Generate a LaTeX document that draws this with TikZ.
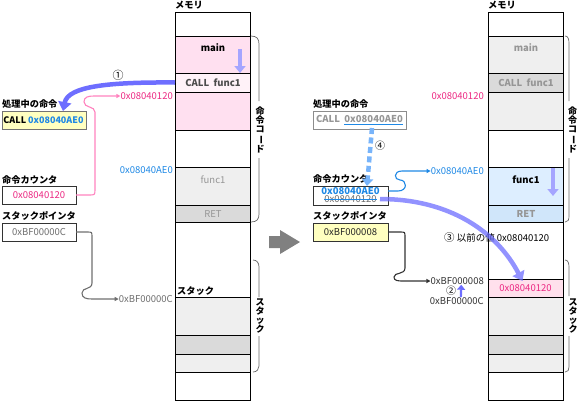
\documentclass[tikz,border=0pt]{standalone}
\usepackage{fontspec}
\setmainfont{Noto Sans CJK JP}
\usepackage{graphicx}
\usetikzlibrary{arrows.meta}
\definecolor{pinkA}{RGB}{255,224,240}
\definecolor{pinkB}{RGB}{255,242,248}
\definecolor{grayA}{RGB}{239,239,239}
\definecolor{grayB}{RGB}{218,218,218}
\definecolor{blueA}{RGB}{221,238,255}
\definecolor{blueB}{RGB}{208,230,250}
\definecolor{pinkC}{RGB}{255,224,236}
\definecolor{mag}{RGB}{236,40,130}
\definecolor{ablue}{RGB}{30,136,229}
\definecolor{tgray}{RGB}{110,110,110}
\definecolor{lgray}{RGB}{150,150,150}
\definecolor{pline}{RGB}{255,130,190}
\definecolor{bigblue}{RGB}{110,110,255}
\definecolor{lpurple}{RGB}{165,165,255}
\definecolor{dblue}{RGB}{120,180,250}
\definecolor{yel}{RGB}{255,255,192}
\begin{document}
\begin{tikzpicture}[x=1pt,y=-1pt,
  cell/.style={draw=black, line width=0.8pt, minimum width=75pt, inner sep=0pt, outer sep=0pt, anchor=north west},
  lbl/.style={font=\fontsize{9.5}{10}\selectfont, inner sep=0pt},
  blbl/.style={font=\fontsize{9.5}{10}\selectfont\bfseries, inner sep=0pt},
  jlbl/.style={font=\fontsize{9.2}{10}\selectfont\bfseries, inner sep=0pt, anchor=west},
  vlbl/.style={font=\fontsize{9}{9}\selectfont\bfseries, inner sep=0pt, align=center},
  regbox/.style={draw=black!80, line width=0.8pt, inner sep=0pt, outer sep=0pt, anchor=north west, minimum width=74pt, minimum height=18pt},
  bracket/.style={draw=black!60, line width=0.7pt},
  bigarrow/.style={draw=bigblue, line width=4.5pt, -{Triangle[length=9pt,width=13pt]}},
  downarrow/.style={draw=lpurple, line width=4.5pt, -{Triangle[length=7pt,width=11pt]}},
  thin/.style={line width=1.1pt, -{Triangle[length=4pt,width=4pt]}}
]
\useasboundingbox (0,0) rectangle (578,402);

% ---------------- left memory column
\node[jlbl] (memL) at (175,5) {メモリ};
\node[cell, fill=white, minimum height=24] (L0) at (175,12) {};
\node[cell, fill=pinkA, minimum height=37] (L1) at (175,36) {};
\node[cell, fill=pinkB, minimum height=19] (L2) at (175,73) {};
\node[cell, fill=pinkA, minimum height=38] (L3) at (175,92) {};
\node[cell, fill=white, minimum height=37] (L4) at (175,130) {};
\node[cell, fill=grayA, minimum height=38] (L5) at (175,167) {};
\node[cell, fill=grayB, minimum height=17] (L6) at (175,205) {};
\node[cell, fill=white, minimum height=75] (L7) at (175,222) {};
\node[cell, fill=grayA, minimum height=38] (L8) at (175,297) {};
\node[cell, fill=grayB, minimum height=19] (L9) at (175,335) {};
\node[cell, fill=grayA, minimum height=18] (L10) at (175,354) {};
\node[cell, fill=white, minimum height=28] (L11) at (175,372) {};
\node[blbl] at (213,48) {main};
\node[blbl, text=black!70] at (213,82.5) {CALL\ \ func1};
\node[lbl, text=lgray] at (213,180) {func1};
\node[lbl, text=lgray] at (213,214) {RET};
\node[jlbl] at (177,291) {スタック};
\draw[downarrow] (240,49) -- (240,73);

% brackets left
\draw[bracket] (251,36) .. controls (257,36) and (259,39) .. (259,44) -- (259,101);
\node[vlbl] (vcL) at (260,130) {命\\令\\コ\\\rotatebox[origin=c]{-90}{ー}\\ド};
\draw[bracket] (259,158) -- (259,214) .. controls (259,219) and (257,222) .. (251,222);
\draw[bracket] (253,260) .. controls (257,260) and (259,263) .. (259,267) -- (259,297);
\node[vlbl] (vsL) at (260,316) {ス\\タ\\ッ\\ク};
\draw[bracket] (259,336) -- (259,366) .. controls (259,369) and (257,372) .. (253,372);

% addresses left
\node[lbl, text=mag, anchor=east] (aL1) at (173,96) {0x08040120};
\node[lbl, text=ablue, anchor=east] (aL2) at (173,170.5) {0x08040AE0};
\node[lbl, text=tgray, anchor=east] (aL3) at (173,299) {0xBF00000C};

% registers left
\node[jlbl] at (2,104) {処理中の命令};
\node[regbox, fill=yel, draw=black!55, minimum width=84pt] (instL) at (2,111) {};
\node[blbl, font=\fontsize{9}{10}\selectfont\bfseries] at ([xshift=-0.5pt]instL.center) {CALL \textcolor{ablue}{0x08040AE0}};
\node[jlbl] at (2,180) {命令カウンタ};
\node[regbox, fill=white] (pcL) at (2,186) {};
\node[lbl, text=mag] at (pcL.center) {0x08040120};
\node[jlbl] at (2,216) {スタックポインタ};
\node[regbox, fill=white] (spL) at (2,223) {};
\node[lbl, text=tgray] at (spL.center) {0xBF00000C};

\draw[thin, pline] (pcL.east) -- (89,195) .. controls (95,195) and (95,195) .. (95,189) -- (95,112)
   .. controls (95,106) and (84,108) .. (84,102) .. controls (84,97) and (88,96) .. (94,96) -- (aL1.west);
\draw[thin, tgray] (spL.east) -- (87,232) .. controls (92,232) and (92,232) .. (92,237) -- (92,283)
   .. controls (92,290) and (82,287) .. (82,293) .. controls (82,298) and (86,299) .. (92,299) -- (aL3.west);

\node[lbl, font=\fontsize{11}{11}\selectfont] (n1) at (118,75) {①};
\draw[bigarrow] (L2.west) .. controls (110,82) and (68,86) .. ([xshift=19pt]instL.north);

% gray block arrow
\fill[black!50] (269,236) -- (280,236) -- (280,230) -- (300,242) -- (280,254) -- (280,248) -- (269,248) -- cycle;

% ---------------- right memory column
\node[jlbl] (memR) at (488,5) {メモリ};
\node[cell, fill=white, minimum height=24] (R0) at (488,12) {};
\node[cell, fill=grayA, minimum height=37] (R1) at (488,36) {};
\node[cell, fill=grayB, minimum height=19] (R2) at (488,73) {};
\node[cell, fill=grayA, minimum height=38] (R3) at (488,92) {};
\node[cell, fill=white, minimum height=37] (R4) at (488,130) {};
\node[cell, fill=blueA, minimum height=38] (R5) at (488,167) {};
\node[cell, fill=blueB, minimum height=17] (R6) at (488,205) {};
\node[cell, fill=white, minimum height=57] (R7) at (488,222) {};
\node[cell, fill=pinkC, minimum height=18] (R7b) at (488,279) {};
\node[cell, fill=grayA, minimum height=38] (R8) at (488,297) {};
\node[cell, fill=grayB, minimum height=19] (R9) at (488,335) {};
\node[cell, fill=grayA, minimum height=18] (R10) at (488,354) {};
\node[cell, fill=white, minimum height=28] (R11) at (488,372) {};
\node[blbl, text=lgray] at (526,48) {main};
\node[blbl, text=lgray] at (526,82.5) {CALL\ \ func1};
\node[blbl] at (526,180) {func1};
\node[blbl, text=lgray] at (526,214) {RET};
\node[lbl, text=mag] at (R7b.center) {0x08040120};
\draw[downarrow] (553,168) -- (553,196);

% brackets right
\draw[bracket] (565,36) .. controls (568,36) and (569,39) .. (569,43) -- (569,101);
\node[vlbl] (vcR) at (572.5,130) {命\\令\\コ\\\rotatebox[origin=c]{-90}{ー}\\ド};
\draw[bracket] (569,158) -- (569,216) .. controls (569,220) and (568,222) .. (565,222);
\draw[bracket] (565,260) .. controls (568,260) and (569,263) .. (569,267) -- (569,296);
\node[vlbl] (vsR) at (573,316) {ス\\タ\\ッ\\ク};
\draw[bracket] (569,336) -- (569,367) .. controls (569,370) and (568,372) .. (565,372);

% addresses right
\node[lbl, text=mag, anchor=east] (aR1) at (484,96) {0x08040120};
\node[lbl, text=ablue, anchor=east] (aR2) at (484,171) {0x08040AE0};
\node[lbl, text=black!80, anchor=east] (aR3) at (484,281) {0xBF000008};
\node[lbl, text=black!80, anchor=east] (aR4) at (484,301) {0xBF00000C};
\node[lbl, font=\fontsize{10}{10}\selectfont] (n2) at (451,291) {②};
\draw[line width=2.2pt, draw=bigblue, -{Triangle[length=5pt,width=8pt]}] ([xshift=4pt]aR4.north) -- ([xshift=4pt]aR3.south);

% registers right
\node[jlbl] at (313,104) {処理中の命令};
\node[regbox, fill=white, draw=black!45, minimum width=93pt] (instR) at (313,111) {};
\node[blbl, text=lgray] at (instR.center) {CALL\ \ {\color{ablue}\underline{\color{lgray}0x08040AE0}}};
\node[jlbl] at (313,179) {命令カウンタ};
\node[regbox, fill=white, minimum width=75pt, minimum height=19pt] (pcR) at (313,186) {};
\node[blbl, text=ablue] at ([yshift=4.5pt]pcR.center) {0x08040AE0};
\node[lbl, text=tgray] (pcRold) at ([yshift=-4pt]pcR.center) {0x08040120};
\draw[ablue, line width=0.8pt] (pcRold.west) -- (pcRold.east);
\node[jlbl] at (313,216) {スタックポインタ};
\node[regbox, fill=yel, minimum width=75pt] (spR) at (313,223) {};
\node[lbl, text=black!85] at (spR.center) {0xBF000008};

\draw[thin, ablue] ([yshift=4.5pt]pcR.east) -- (398,191) .. controls (408,191) and (407,180) .. (400,180)
   .. controls (394,180) and (393,171) .. (402,171) -- (aR2.west);
\draw[thin, black!80] (spR.east) -- (400,232) .. controls (405,232) and (405,232) .. (405,237) -- (405,268)
   .. controls (405,275) and (394,272) .. (394,277) .. controls (394,281) and (398,281) .. (404,281) -- (aR3.west);

\node[lbl, font=\fontsize{10}{10}\selectfont] (n4) at (380,146) {④};
\draw[draw=dblue, line width=4.5pt, dash pattern=on 6pt off 3.5pt, -{Triangle[length=7pt,width=11pt]}]
  ([xshift=12.5pt,yshift=1pt]instR.south) -- ([xshift=16.5pt]pcR.north);

\node[lbl, anchor=west] (n3) at (444,238) {{\fontsize{10.5}{10}\selectfont ③} 以前の値 0x08040120};
\begin{scope}[transparency group, opacity=0.75]
\draw[bigarrow] ([xshift=-8pt,yshift=-3.5pt]pcR.east) .. controls (450,199) and (497,232) .. ([xshift=-3pt,yshift=-2pt]R7b.north);
\end{scope}
\end{tikzpicture}
\end{document}
